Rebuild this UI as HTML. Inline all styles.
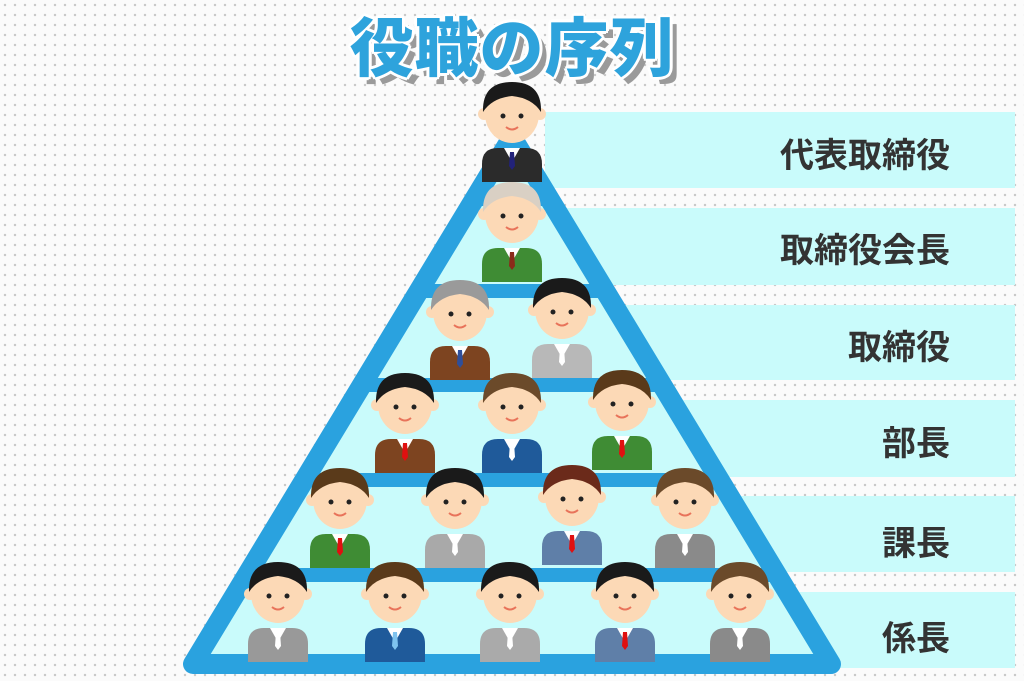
<!DOCTYPE html>
<html><head><meta charset="utf-8"><style>
html,body{margin:0;padding:0}
body{width:1024px;height:681px;overflow:hidden;position:relative;background-color:#fbfbfb;
background-image:radial-gradient(circle,#c9c9c9 1.1px,transparent 1.4px);background-size:10px 10px;
font-family:"Liberation Sans","Noto Sans CJK JP",sans-serif}
.title{position:absolute;left:0;width:1024px;top:-2px;text-align:center;font-size:64px;font-weight:900;
color:#2ea3dc;text-shadow:
3px 0 #fff,-3px 0 #fff,0 3px #fff,0 -3px #fff,2px 2px #fff,-2px -2px #fff,2px -2px #fff,-2px 2px #fff,
7px 7px #9a9a9a;letter-spacing:1px}
.band{position:absolute;right:9px;background:#c9fbfb}
.lab{position:absolute;right:74px;font-size:34px;font-weight:bold;color:#333}
svg{position:absolute;left:0;top:0}
</style></head><body>
<div class="band" style="left:545px;top:112px;height:76px"></div>
<div class="band" style="left:545px;top:208px;height:77px"></div>
<div class="band" style="left:545px;top:305px;height:75px"></div>
<div class="band" style="left:545px;top:400px;height:77px"></div>
<div class="band" style="left:545px;top:496px;height:76px"></div>
<div class="band" style="left:545px;top:592px;height:76px"></div>
<div class="lab" style="top:128px">代表取締役</div>
<div class="lab" style="top:223px">取締役会長</div>
<div class="lab" style="top:320px">取締役</div>
<div class="lab" style="top:416px">部長</div>
<div class="lab" style="top:516px">課長</div>
<div class="lab" style="top:611px">係長</div>
<div class="title">役職の序列</div>
<svg width="1024" height="681" viewBox="0 0 1024 681">
<defs>
<g id="p">
<path d="M-30 70 L-30 52 Q-30 36 -14 36 L14 36 Q30 36 30 52 L30 70 Z" fill="var(--s)"/>
<path d="M-8 36 L0 50 L8 36 Z" fill="#fff"/>
<path d="M-2 40 L2 40 L3 54 L0 58 L-3 54 Z" fill="var(--t)"/>
<circle cx="-28" cy="2" r="6" fill="#fcd9b6"/><circle cx="28" cy="2" r="6" fill="#fcd9b6"/>
<ellipse cx="0" cy="2" rx="27" ry="29" fill="#fcd9b6"/>
<path d="M-29 0 Q-30 -30 0 -30 Q30 -30 29 0 Q20 -14 0 -16 Q-20 -14 -29 0Z" fill="var(--h)"/>
<circle cx="-9" cy="4" r="2.5" fill="#222"/><circle cx="9" cy="4" r="2.5" fill="#222"/>
<path d="M-6 15 Q0 20 6 15" stroke="#e8735a" stroke-width="2" fill="none"/>
</g>
</defs>
<polygon points="512,137 193,664 831,664" fill="#c9fbfb" stroke="#2aa2df" stroke-width="20" stroke-linejoin="round"/>
<g fill="#2aa2df">
<rect x="470" y="192" width="85" height="14"/>
<rect x="415" y="284" width="196" height="14"/>
<rect x="357" y="378" width="310" height="14"/>
<rect x="300" y="473" width="424" height="14"/>
<rect x="243" y="568" width="538" height="14"/>
</g>
<use href="#p" x="512" y="112" style="--s:#2b2b2b;--t:#22227a;--h:#1a1a1a"/>
<use href="#p" x="512" y="212" style="--s:#3f8c34;--t:#8a2b1a;--h:#d9d0c4"/>
<use href="#p" x="460" y="310" style="--s:#7d4420;--t:#2f4f9a;--h:#9a9a9a"/>
<use href="#p" x="562" y="308" style="--s:#b8b8b8;--t:#fff;--h:#1a1a1a"/>
<use href="#p" x="405" y="403" style="--s:#7d4420;--t:#e01010;--h:#1a1a1a"/>
<use href="#p" x="512" y="403" style="--s:#1f5a9a;--t:#fff;--h:#6b4a2a"/>
<use href="#p" x="622" y="400" style="--s:#3f8c34;--t:#e01010;--h:#5a3a1a"/>
<use href="#p" x="340" y="498" style="--s:#3f8c34;--t:#e01010;--h:#5a3a1a"/>
<use href="#p" x="455" y="498" style="--s:#a9a9a9;--t:#fff;--h:#1a1a1a"/>
<use href="#p" x="572" y="495" style="--s:#5f7fa8;--t:#e01010;--h:#6b2a1a"/>
<use href="#p" x="685" y="498" style="--s:#8a8a8a;--t:#fff;--h:#6b4a2a"/>
<use href="#p" x="278" y="592" style="--s:#999;--t:#fff;--h:#1a1a1a"/>
<use href="#p" x="395" y="592" style="--s:#1f5a9a;--t:#7fc3ee;--h:#5a3a1a"/>
<use href="#p" x="510" y="592" style="--s:#aaa;--t:#fff;--h:#1a1a1a"/>
<use href="#p" x="625" y="592" style="--s:#5f7fa8;--t:#e01010;--h:#1a1a1a"/>
<use href="#p" x="740" y="592" style="--s:#8a8a8a;--t:#fff;--h:#6b4a2a"/>
</svg>
</body></html>
